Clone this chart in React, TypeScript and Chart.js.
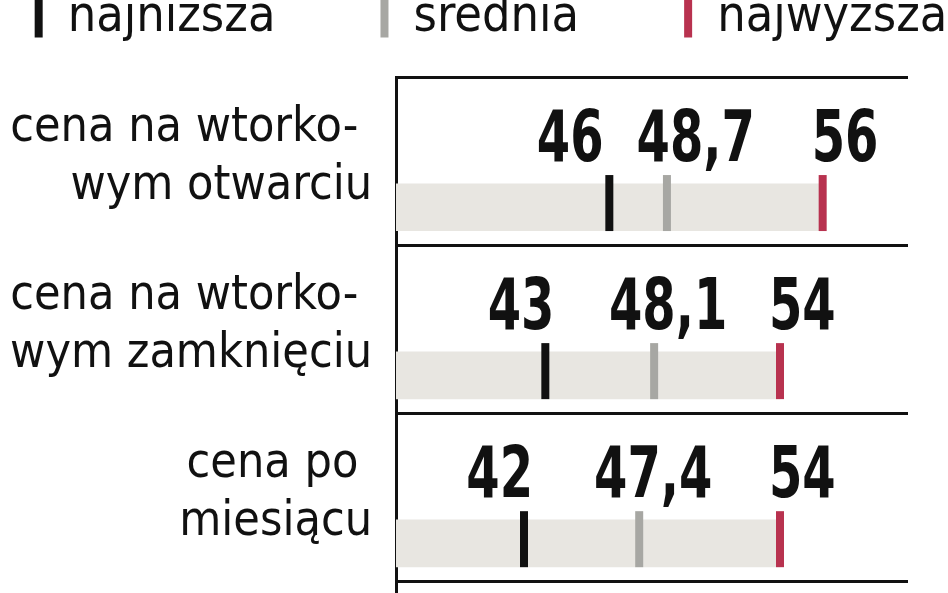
import React, { useEffect, useRef } from 'react';
import { Chart, registerables } from 'chart.js';

Chart.register(...registerables);

// ---- data ----
const categories: string[][] = [
  ['cena na wtorko- ', 'wym otwarciu'],
  ['cena na wtorko- ', 'wym zamknięciu'],
  ['cena po ', 'miesiącu'],
];
const seriesNames: string[] = ['najniższa', 'średnia', 'najwyższa'];
const lowestValues: number[] = [46, 43, 42];
const averageValues: number[] = [48.7, 48.1, 47.4];
const highestValues: number[] = [56, 54, 54];
const axisMin = 36;
const axisMax = 60;

// ---- styles / layout ----
const FONT = '"DejaVu Sans Condensed", "Liberation Sans Narrow", sans-serif';
const MARK_COLORS = ['#111111', '#a7a7a3', '#b8324f'];
const BAR_COLOR = '#e8e6e1';
const CANVAS_W = 1200;
const CANVAS_H = 746;
const OFFSET_X = 109;
const OFFSET_Y = 112;
const PLOT_LEFT = 396;
const PLOT_RIGHT = 908;
const ROW_BAR = 0.775;
const ROW_MARK = 0.75;
const ROW_LABEL = 0.48;

const fmt = (v: number) => String(v).replace('.', ',');

const valueLabels = {
  id: 'valueLabels',
  afterDatasetsDraw(chart: any) {
    const ctx = chart.ctx;
    const barMeta = chart.getDatasetMeta(0);
    const SX = 0.74;
    const GAP = 33;
    const font = `bold 72px ${FONT}`;
    const n = chart.data.datasets[0].data.length;
    for (let i = 0; i < n; i++) {
      const bar = barMeta.data[i] as any;
      const baseline = bar.y - bar.height / 2 - 23;
      ctx.save();
      ctx.font = font;
      // lowest right-aligned, average centred, highest left-aligned near their marks
      const boxes = [1, 2, 3].map((di, k) => {
        const pt = chart.getDatasetMeta(di).data[i] as any;
        const text = fmt((chart.data.datasets[di].data as any[])[i].x);
        const w = ctx.measureText(text).width * SX;
        let left: number;
        if (k === 0) left = pt.x + 9 - w;
        else if (k === 1) left = pt.x + 14 - w / 2;
        else left = pt.x - 11;
        return { text, w, left };
      });
      for (let k = 0; k < 2; k++) {
        const a = boxes[k];
        const b = boxes[k + 1];
        const overlap = a.left + a.w + GAP - b.left;
        if (overlap > 0) {
          a.left -= overlap / 2;
          b.left += overlap / 2;
        }
      }
      ctx.fillStyle = '#111111';
      ctx.textBaseline = 'alphabetic';
      ctx.textAlign = 'left';
      boxes.forEach((b) => {
        ctx.save();
        ctx.translate(b.left, baseline);
        ctx.scale(SX, 1);
        ctx.fillText(b.text, 0, 0);
        ctx.restore();
      });
      ctx.restore();
    }
  },
};

export default function App() {
  const ref = useRef<HTMLCanvasElement | null>(null);

  useEffect(() => {
    if (!ref.current) return;
    const markSeries = [lowestValues, averageValues, highestValues];
    const chart = new Chart(ref.current, {
      type: 'bar',
      data: {
        datasets: [
          {
            type: 'bar',
            label: 'zakres',
            data: highestValues.map((v, i) => ({ x: v, y: i + ROW_BAR })),
            backgroundColor: BAR_COLOR,
            borderWidth: 0,
            barThickness: 47,
            order: 2,
          } as any,
          ...markSeries.map((vals, k) => ({
            type: 'line',
            label: seriesNames[k],
            data: vals.map((v, i) => ({ x: v, y: i + ROW_MARK })),
            showLine: false,
            indexAxis: 'y',
            backgroundColor: MARK_COLORS[k],
            borderColor: MARK_COLORS[k],
            borderWidth: 0,
            pointStyle: 'line',
            pointRotation: 90,
            pointRadius: 28,
            pointHoverRadius: 28,
            pointBorderWidth: 8,
            pointHoverBorderWidth: 8,
            pointBorderColor: MARK_COLORS[k],
            pointBackgroundColor: MARK_COLORS[k],
            order: 1,
          } as any)),
        ],
      },
      options: {
        indexAxis: 'y',
        animation: false,
        responsive: false,
        events: [],
        layout: { padding: 0 },
        plugins: {
          legend: {
            display: true,
            position: 'top',
            align: 'center',
            labels: {
              filter: (item: any) => item.datasetIndex > 0,
              boxWidth: 8,
              boxHeight: 39,
              padding: 105,
              color: '#111111',
              font: { family: FONT, size: 50 },
            },
          },
          tooltip: { enabled: false },
        },
        scales: {
          x: {
            type: 'linear',
            position: 'top',
            min: axisMin,
            max: axisMax,
            offset: false,
            display: true,
            grid: { display: false },
            border: { display: false },
            ticks: { display: false },
            afterFit: (s: any) => {
              s.height = 24;
            },
          },
          y: {
            type: 'linear',
            position: 'left',
            reverse: true,
            min: 0,
            max: 3.1,
            offset: false,
            afterBuildTicks: (s: any) => {
              const vals: number[] = [];
              categories.forEach((_, i) => {
                vals.push(i, i + ROW_LABEL);
              });
              vals.push(categories.length);
              s.ticks = vals.map((value) => ({ value }));
            },
            afterFit: (s: any) => {
              s.width = OFFSET_X + PLOT_LEFT;
              s.paddingTop = 0;
              s.paddingBottom = 0;
            },
            grid: {
              display: true,
              offset: false,
              drawTicks: false,
              lineWidth: 3,
              color: (c: any) => {
                const v = c.tick ? c.tick.value : 0.5;
                return Math.abs(v - Math.round(v)) < 0.001 ? '#111111' : 'rgba(0,0,0,0)';
              },
            },
            border: { display: true, color: '#111111', width: 3 },
            ticks: {
              autoSkip: false,
              padding: 24,
              color: '#111111',
              font: { family: FONT, size: 48, lineHeight: 1.2 },
              callback: (value: any) => {
                const v = Number(value);
                if (Math.abs(v - Math.round(v)) < 0.001) return '';
                return categories[Math.floor(v)] || '';
              },
            },
          },
          yRight: {
            type: 'linear',
            position: 'right',
            display: true,
            grid: { display: false },
            border: { display: false },
            ticks: { display: false },
            afterFit: (s: any) => {
              s.width = CANVAS_W - OFFSET_X - PLOT_RIGHT;
              s.paddingTop = 0;
              s.paddingBottom = 0;
            },
          },
        },
      } as any,
      plugins: [valueLabels as any],
    });
    return () => chart.destroy();
  }, []);

  return (
    <div
      style={{
        position: 'fixed',
        left: 0,
        top: 0,
        width: 948,
        height: 593,
        overflow: 'hidden',
        background: '#ffffff',
      }}
    >
      <canvas
        ref={ref}
        width={CANVAS_W}
        height={CANVAS_H}
        style={{
          position: 'absolute',
          left: -OFFSET_X,
          top: -OFFSET_Y,
          width: CANVAS_W,
          height: CANVAS_H,
        }}
      />
    </div>
  );
}
